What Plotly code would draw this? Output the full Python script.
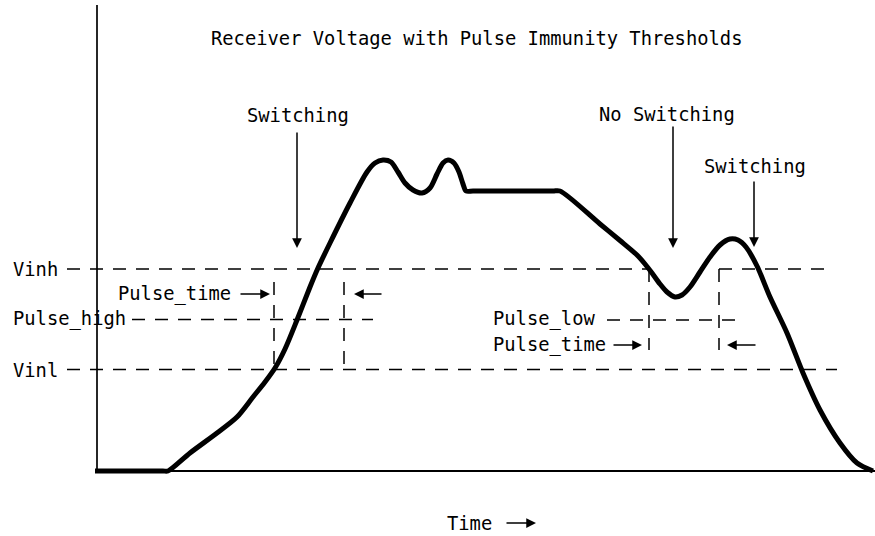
import plotly.graph_objects as go

# ---------------- data ----------------
# Receiver waveform: time (arbitrary units) and voltage (arbitrary units)
time = [-2, 35, 66, 71, 93, 120, 140, 156, 168, 178, 188, 200, 213, 221, 233, 253, 270, 278,
        286, 294, 301, 308, 316, 325, 333, 340, 346, 351, 357, 362, 366, 369, 376, 416,
        456, 463, 503, 523, 540, 548, 555, 563, 570, 578, 585, 593, 603, 613, 623, 633,
        641, 649, 660, 673, 690, 706, 723, 743, 760, 776]
voltage = [0, 0, 0, 0, 18, 38, 54, 74, 89, 103, 122, 151, 184, 203, 228, 268, 299, 308,
           311, 309, 299, 288, 281, 278, 283, 297, 308, 311, 308, 299, 287, 280, 280, 280,
           280, 280, 247, 230.5, 216, 207, 198, 187, 179, 174, 176, 184, 199, 214, 226,
           232, 231, 224, 205, 174, 138, 98, 61, 28, 8, 0]

# Threshold levels
VINH = 202
PULSE_HIGH = 151.5
PULSE_LOW = 151
VINL = 101.5

# Threshold line extents (time)
vinh_segments = [(-30, 552), (622, 730)]
vinl_extent = (-30, 740)
pulse_high_extent = (35, 276)
pulse_low_extent = (510, 638)

# Pulse-time boundaries (time) and their vertical spans (voltage)
pulse1_bounds = [177, 247]
pulse1_span = (102, 189)
pulse2_bounds = [552, 622]
pulse2_span = (121, 202)

# Axis extents
T_MAX = 778
V_TOP = 466

# ---------------- figure ----------------
FONT = "DejaVu Sans Mono"
FS = 18.8


def X(px):
    return px - 97


def Y(py):
    return 471 - py


fig = go.Figure()

dash_style = dict(color="black", width=1.5, dash="13px,10px")

# Vinh (two segments)
xs, ys = [], []
for a, b in vinh_segments:
    xs += [a, b, None]
    ys += [VINH, VINH, None]
fig.add_trace(go.Scatter(x=xs, y=ys, mode="lines", line=dash_style, hoverinfo="skip"))
# Vinl
fig.add_trace(go.Scatter(x=list(vinl_extent), y=[VINL, VINL], mode="lines",
                         line=dash_style, hoverinfo="skip"))
# Pulse_high
fig.add_trace(go.Scatter(x=list(pulse_high_extent), y=[PULSE_HIGH, PULSE_HIGH],
                         mode="lines", line=dash_style, hoverinfo="skip"))
# Pulse_low
fig.add_trace(go.Scatter(x=list(pulse_low_extent), y=[PULSE_LOW, PULSE_LOW],
                         mode="lines", line=dash_style, hoverinfo="skip"))
# vertical pulse boundaries
for bounds, span in ((pulse1_bounds, pulse1_span), (pulse2_bounds, pulse2_span)):
    for b in bounds:
        fig.add_trace(go.Scatter(x=[b, b], y=[span[1], span[0]], mode="lines",
                                 line=dash_style, hoverinfo="skip"))

# axes lines
fig.add_shape(type="line", x0=0, x1=0, y0=0, y1=V_TOP, xref="x", yref="y",
              line=dict(color="black", width=1.7))
fig.add_shape(type="line", x0=0, x1=T_MAX, y0=0, y1=0, xref="x", yref="y",
              line=dict(color="black", width=2))

# waveform
fig.add_trace(go.Scatter(x=time, y=voltage, mode="lines",
                         line=dict(color="black", width=5, shape="spline", smoothing=0.8),
                         hoverinfo="skip"))

annotations = []


def text(s, px, py, anchor="left"):
    annotations.append(dict(x=X(px), y=Y(py), xref="x", yref="y", text=s,
                            showarrow=False, xanchor=anchor, yanchor="middle",
                            font=dict(family=FONT, size=FS, color="black")))


def arrow(px0, py0, px1, py1):
    annotations.append(dict(x=X(px1), y=Y(py1), ax=X(px0), ay=Y(py0),
                            xref="x", yref="y", axref="x", ayref="y", text="",
                            showarrow=True, arrowhead=2, arrowsize=1.3,
                            arrowwidth=1.5, arrowcolor="black", standoff=0))


text("Receiver Voltage with Pulse Immunity Thresholds", 476, 38, "center")
text("Switching", 298, 115, "center")
text("No Switching", 667, 114, "center")
text("Switching", 755, 166, "center")
text("Vinh", 11, 269)
text("Pulse_high", 11, 319)
text("Vinl", 11, 370)
text("Pulse_time", 233, 294, "right")
text("Pulse_low", 491, 319)
text("Pulse_time", 491, 345)
text("Time", 445, 523)

arrow(297, 131, 297, 248)
arrow(673, 125, 673, 248)
arrow(754, 180, 754, 247)
arrow(239, 294, 270, 294)
arrow(383, 294, 354, 294)
arrow(612, 345, 642, 345)
arrow(757, 345, 727, 345)
arrow(505, 523, 536, 523)

fig.update_layout(
    width=875, height=536,
    margin=dict(l=0, r=0, t=0, b=0),
    paper_bgcolor="white", plot_bgcolor="white",
    showlegend=False,
    xaxis=dict(range=[X(0), X(875)], visible=False, fixedrange=True),
    yaxis=dict(range=[Y(536), Y(0)], visible=False, fixedrange=True),
    annotations=annotations,
)

fig.write_html("out.html",
               config={"displayModeBar": False},
               post_script="document.body.style.margin='0px';document.body.style.overflow='hidden';")
